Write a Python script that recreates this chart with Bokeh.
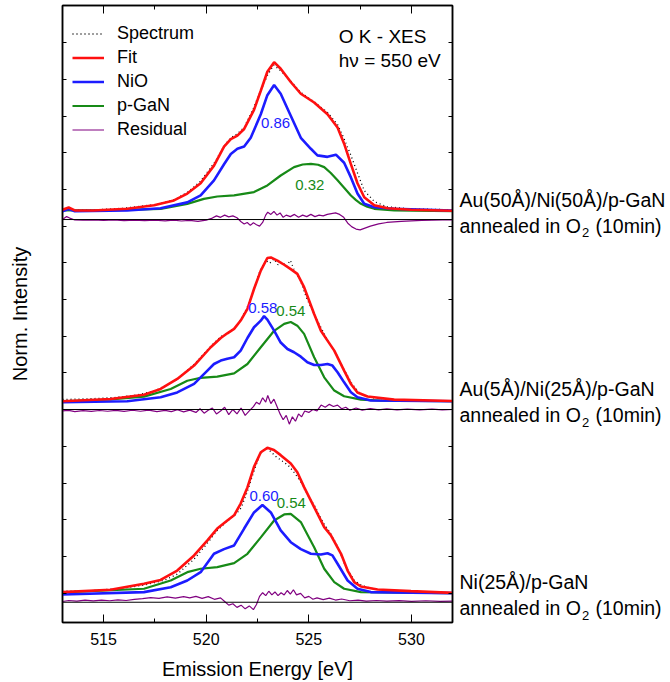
from bokeh.plotting import figure
from bokeh.layouts import row
from bokeh.models import (Legend, LegendItem, Span, Label, LinearAxis, FixedTicker,
                          CustomJSTickFormatter, Range1d, ColumnDataSource)
from bokeh.core.properties import value
from bokeh.embed import file_html
from bokeh.resources import INLINE

FONT = "Liberation Sans"

# ---------------- axes ----------------
x_major_ticks = [515, 520, 525, 530]
x_minor_ticks = [512.5, 517.5, 522.5, 527.5, 532.5]
y_ticks = [0.2, 0.45, 0.7, 0.95, 1.2, 1.45, 1.7, 1.95, 2.2, 2.45, 2.7, 2.95,
           3.2, 3.45, 3.7, 3.95, 4.2]

series_names = ["Spectrum", "Fit", "NiO", "p-GaN", "Residual"]
sample_names = ["Au(50Å)/Ni(50Å)/p-GaN", "Au(5Å)/Ni(25Å)/p-GaN", "Ni(25Å)/p-GaN"]
nio_weights = ["0.86", "0.58", "0.60"]
gan_weights = ["0.32", "0.54", "0.54"]

# ---------------- panel 1 : Au(50Å)/Ni(50Å)/p-GaN ----------------
p1_spec_x = [513.0, 513.3, 513.6, 514.5, 516.0, 517.5, 518.5, 519.1, 519.7, 520.4, 520.9, 521.2, 521.5, 521.85, 522.3, 522.65, 523.0, 523.3, 523.6, 524.1, 524.6, 525.25, 525.9, 526.4, 526.7, 527.05, 527.4, 527.7, 528.2, 528.8, 530.0, 532.0]
p1_spec_y = [0.012, 0.02, 0.008, 0.008, 0.02, 0.045, 0.08, 0.13, 0.20, 0.33, 0.45, 0.50, 0.525, 0.57, 0.70, 0.82, 0.93, 0.995, 0.96, 0.89, 0.81, 0.745, 0.675, 0.59, 0.50, 0.38, 0.25, 0.14, 0.065, 0.03, 0.015, 0.01]
p1_fit_x = [513.0, 513.3, 513.6, 514.5, 516.15, 517.46, 518.43, 519.08, 519.73, 520.38, 520.87, 521.2, 521.52, 521.85, 522.33, 522.66, 522.98, 523.31, 523.63, 524.12, 524.61, 525.26, 525.91, 526.4, 526.72, 527.05, 527.37, 527.7, 528.19, 528.84, 529.98, 532.0]
p1_fit_y = [0.01, 0.025, 0.005, 0.005, 0.016, 0.04, 0.073, 0.12, 0.19, 0.31, 0.44, 0.49, 0.515, 0.56, 0.69, 0.82, 0.95, 1.015, 0.97, 0.88, 0.80, 0.74, 0.66, 0.57, 0.46, 0.32, 0.19, 0.095, 0.04, 0.02, 0.01, 0.003]
p1_nio_x = [513.0, 513.3, 513.6, 516.15, 517.78, 519.08, 519.73, 520.38, 520.87, 521.2, 521.52, 521.85, 522.17, 522.66, 522.98, 523.31, 523.63, 524.12, 524.61, 525.1, 525.42, 525.91, 526.32, 526.72, 527.05, 527.37, 527.7, 528.19, 529.16, 532.0]
p1_nio_y = [0.0, 0.015, 0.0, 0.005, 0.02, 0.06, 0.107, 0.21, 0.32, 0.39, 0.425, 0.44, 0.50, 0.66, 0.79, 0.86, 0.80, 0.65, 0.50, 0.425, 0.38, 0.37, 0.385, 0.33, 0.23, 0.12, 0.05, 0.027, 0.016, 0.005]
p1_gan_x = [513.0, 516.0, 517.78, 519.08, 519.89, 520.54, 521.36, 522.33, 522.98, 523.63, 524.28, 524.7, 525.1, 525.45, 525.75, 526.07, 526.4, 526.72, 527.05, 527.3, 527.54, 527.85, 528.19, 529.16, 532.0]
p1_gan_y = [0.005, 0.008, 0.016, 0.05, 0.084, 0.10, 0.107, 0.13, 0.175, 0.243, 0.30, 0.318, 0.322, 0.316, 0.30, 0.26, 0.21, 0.16, 0.107, 0.075, 0.05, 0.03, 0.016, 0.005, 0.0]
p1_res_x = [513.0, 513.2, 513.35, 513.6, 514.0, 514.5, 515.0, 515.5, 516.0, 516.5, 517.0, 517.5, 518.0, 518.4, 518.8, 519.2, 519.6, 520.0, 520.3, 520.5, 520.7, 520.9, 521.1, 521.3, 521.5, 521.7, 521.85, 522.0, 522.15, 522.3, 522.45, 522.6, 522.75, 522.9, 523.0, 523.15, 523.3, 523.45, 523.6, 523.75, 523.9, 524.1, 524.3, 524.5, 524.7, 524.9, 525.1, 525.3, 525.5, 525.7, 525.9, 526.1, 526.3, 526.5, 526.7, 526.9, 527.1, 527.3, 527.5, 527.7, 528.0, 528.4, 528.8, 529.5, 530.5, 531.5, 532.0]
p1_res_y = [0.0, 0.02, 0.01, -0.003, -0.005, -0.002, -0.006, -0.003, -0.007, -0.004, -0.008, -0.005, -0.009, -0.004, -0.01, -0.006, -0.012, -0.004, 0.01, 0.025, 0.015, 0.03, 0.018, 0.025, 0.012, -0.015, -0.03, -0.02, -0.04, -0.022, -0.035, -0.045, -0.02, 0.03, 0.05, 0.035, 0.055, 0.03, 0.045, 0.015, 0.03, 0.02, 0.035, 0.015, 0.03, 0.02, 0.035, 0.02, 0.03, 0.025, 0.035, 0.04, 0.045, 0.035, 0.015, -0.025, -0.05, -0.065, -0.07, -0.06, -0.045, -0.03, -0.02, -0.012, -0.006, -0.003, -0.002]

# ---------------- panel 2 : Au(5Å)/Ni(25Å)/p-GaN ----------------
p2_spec_x = [513.0, 514.5, 515.5, 516.5, 517.5, 518.5, 519.4, 520.2, 520.7, 521.0, 521.4, 521.7, 522.0, 522.3, 522.6, 522.9, 523.1, 523.3, 523.5, 523.7, 523.9, 524.1, 524.3, 524.6, 524.9, 525.3, 525.6, 525.9, 526.3, 526.7, 527.1, 527.5, 528.0, 529.0, 530.5, 532.0]
p2_spec_y = [0.012, 0.018, 0.025, 0.04, 0.07, 0.14, 0.25, 0.37, 0.44, 0.46, 0.5, 0.56, 0.64, 0.75, 0.88, 0.96, 0.94, 0.97, 0.93, 0.95, 0.92, 0.96, 0.89, 0.82, 0.70, 0.58, 0.50, 0.42, 0.33, 0.22, 0.12, 0.05, 0.025, 0.012, 0.005, 0.003]
p2_fit_x = [513.0, 515.34, 516.97, 517.78, 518.59, 519.41, 520.22, 520.71, 521.03, 521.36, 521.68, 522.01, 522.33, 522.66, 522.98, 523.15, 523.47, 523.8, 524.12, 524.44, 524.77, 525.26, 525.59, 525.91, 526.24, 526.72, 527.05, 527.37, 527.86, 529.16, 532.0]
p2_fit_y = [0.0, 0.016, 0.045, 0.084, 0.152, 0.243, 0.368, 0.431, 0.463, 0.493, 0.55, 0.63, 0.765, 0.89, 0.976, 0.98, 0.958, 0.93, 0.90, 0.868, 0.777, 0.595, 0.481, 0.413, 0.345, 0.209, 0.118, 0.06, 0.032, 0.011, 0.002]
p2_nio_x = [513.0, 516.15, 517.78, 518.59, 519.41, 520.06, 520.38, 520.71, 521.03, 521.36, 521.68, 522.01, 522.33, 522.66, 522.82, 522.98, 523.31, 523.63, 523.96, 524.28, 524.61, 524.93, 525.26, 525.59, 525.91, 526.15, 526.4, 526.72, 527.05, 527.37, 528.02, 532.0]
p2_nio_y = [-0.007, 0.0, 0.027, 0.06, 0.118, 0.209, 0.254, 0.277, 0.29, 0.30, 0.345, 0.431, 0.504, 0.549, 0.58, 0.556, 0.481, 0.40, 0.356, 0.334, 0.304, 0.266, 0.247, 0.247, 0.254, 0.243, 0.198, 0.129, 0.061, 0.027, 0.005, 0.0]
p2_gan_x = [513.0, 515.34, 516.97, 518.27, 519.08, 519.73, 520.54, 521.36, 522.01, 522.66, 523.31, 523.8, 524.12, 524.44, 524.77, 525.26, 525.75, 526.24, 526.72, 527.54, 528.5, 532.0]
p2_gan_y = [0.0, 0.012, 0.032, 0.084, 0.14, 0.16, 0.168, 0.19, 0.254, 0.368, 0.48, 0.527, 0.54, 0.515, 0.459, 0.30, 0.163, 0.073, 0.034, 0.011, 0.004, 0.0]
p2_res_x = [513.0, 513.3, 513.6, 514.0, 514.4, 514.8, 515.2, 515.6, 516.0, 516.4, 516.8, 517.2, 517.6, 518.0, 518.3, 518.6, 518.9, 519.2, 519.5, 519.7, 519.9, 520.1, 520.3, 520.5, 520.7, 520.9, 521.1, 521.3, 521.5, 521.7, 521.9, 522.1, 522.3, 522.45, 522.6, 522.75, 522.9, 523.0, 523.15, 523.3, 523.45, 523.6, 523.75, 523.9, 524.05, 524.2, 524.35, 524.5, 524.65, 524.8, 525.0, 525.2, 525.4, 525.6, 525.8, 526.0, 526.2, 526.4, 526.6, 526.8, 527.0, 527.3, 527.6, 528.0, 528.4, 528.8, 529.3, 529.8, 530.4, 531.0, 531.5, 532.0]
p2_res_y = [-0.01, -0.006, -0.014, -0.008, -0.013, -0.007, -0.012, -0.006, -0.013, -0.005, -0.012, -0.004, -0.014, -0.006, -0.015, -0.002, -0.016, -0.004, -0.02, 0.005, -0.025, -0.005, 0.01, -0.03, -0.01, 0.015, -0.035, 0.0, -0.03, 0.01, -0.04, -0.01, 0.02, 0.05, 0.035, 0.08, 0.05, 0.095, 0.04, 0.07, 0.02, -0.03, -0.07, -0.04, -0.1, -0.05, -0.08, -0.03, -0.05, -0.01, -0.02, 0.0, -0.01, 0.03, 0.015, 0.035, 0.02, 0.03, 0.005, 0.015, -0.005, 0.01, -0.004, 0.006, -0.002, 0.004, -0.003, 0.003, -0.002, 0.002, -0.002, 0.0]

# ---------------- panel 3 : Ni(25Å)/p-GaN ----------------
p3_spec_x = [513.0, 514.5, 516.0, 517.0, 518.0, 518.6, 519.4, 520.0, 520.5, 521.0, 521.4, 521.7, 522.0, 522.3, 522.6, 522.9, 523.1, 523.4, 523.7, 524.0, 524.3, 524.6, 524.9, 525.3, 525.7, 526.0, 526.4, 526.8, 527.2, 527.6, 528.2, 529.0, 530.5, 532.0]
p3_spec_y = [0.012, 0.018, 0.035, 0.055, 0.09, 0.13, 0.23, 0.33, 0.42, 0.49, 0.53, 0.58, 0.69, 0.82, 0.94, 0.99, 0.97, 0.93, 0.90, 0.87, 0.82, 0.76, 0.68, 0.59, 0.48, 0.42, 0.32, 0.18, 0.09, 0.05, 0.028, 0.015, 0.006, 0.003]
p3_fit_x = [513.0, 515.34, 516.97, 517.78, 518.59, 519.41, 520.06, 520.54, 521.03, 521.36, 521.68, 522.01, 522.33, 522.66, 522.98, 523.3, 523.63, 524.12, 524.44, 524.77, 525.26, 525.75, 526.07, 526.57, 526.89, 527.21, 527.54, 528.35, 529.98, 532.0]
p3_fit_y = [0.007, 0.023, 0.064, 0.09, 0.154, 0.257, 0.36, 0.44, 0.495, 0.53, 0.61, 0.72, 0.86, 0.96, 0.99, 0.975, 0.94, 0.883, 0.824, 0.722, 0.586, 0.45, 0.395, 0.268, 0.154, 0.075, 0.045, 0.025, 0.014, 0.002]
p3_nio_x = [513.0, 516.97, 518.27, 519.08, 519.73, 520.38, 520.87, 521.36, 521.85, 522.33, 522.74, 523.15, 523.63, 524.12, 524.61, 525.1, 525.59, 525.91, 526.15, 526.4, 526.89, 527.37, 528.02, 532.0]
p3_nio_y = [-0.009, 0.007, 0.04, 0.086, 0.143, 0.268, 0.30, 0.325, 0.44, 0.55, 0.60, 0.55, 0.427, 0.347, 0.30, 0.268, 0.263, 0.272, 0.257, 0.20, 0.086, 0.03, 0.007, 0.0]
p3_gan_x = [513.0, 516.97, 518.27, 519.08, 519.73, 520.54, 521.36, 522.01, 522.66, 523.31, 523.8, 524.12, 524.61, 524.93, 525.26, 525.75, 526.24, 526.72, 527.54, 532.0]
p3_gan_y = [0.005, 0.03, 0.086, 0.143, 0.166, 0.177, 0.204, 0.268, 0.38, 0.495, 0.536, 0.54, 0.484, 0.40, 0.313, 0.166, 0.075, 0.03, 0.007, 0.0]
p3_res_x = [513.0, 513.3, 513.7, 514.1, 514.5, 514.9, 515.3, 515.7, 516.1, 516.5, 516.9, 517.3, 517.7, 518.1, 518.5, 518.9, 519.2, 519.5, 519.8, 520.1, 520.4, 520.7, 520.9, 521.1, 521.3, 521.5, 521.7, 521.9, 522.1, 522.3, 522.45, 522.6, 522.75, 522.9, 523.05, 523.2, 523.35, 523.5, 523.65, 523.8, 523.95, 524.1, 524.25, 524.4, 524.6, 524.8, 525.0, 525.2, 525.4, 525.7, 526.0, 526.3, 526.6, 527.0, 527.4, 527.8, 528.3, 528.8, 529.4, 530.0, 530.7, 531.4, 532.0]
p3_res_y = [0.005, 0.012, 0.008, 0.014, 0.009, 0.015, 0.01, 0.016, 0.012, 0.02, 0.025, 0.032, 0.026, 0.036, 0.028, 0.038, 0.03, 0.04, 0.026, 0.038, 0.02, 0.03, 0.005, -0.02, -0.01, -0.035, -0.02, -0.045, -0.025, -0.05, -0.015, 0.04, 0.065, 0.045, 0.075, 0.05, 0.07, 0.045, 0.065, 0.05, 0.08, 0.055, 0.085, 0.05, 0.06, 0.03, 0.04, 0.02, 0.03, 0.018, 0.028, 0.015, 0.022, 0.01, 0.015, 0.008, 0.012, 0.007, 0.011, 0.006, 0.01, 0.006, 0.008]

# ---------------- layout (vertical stacking offsets) ----------------
Y_END = 4.203
PX_PER_UNIT = 146.8
panel_base = [2.802, 1.507, 0.2]     # flat level of each spectrum
panel_zero = [2.745, 1.451, 0.138]   # zero line of each residual
nio_label_pos = [(523.38, 0.60), (522.76, 0.637), (522.82, 0.665)]
gan_label_pos = [(525.05, 0.175), (524.12, 0.612), (524.15, 0.613)]

C_SPEC, C_FIT, C_NIO, C_GAN, C_RES = "black", "#ff1010", "#1c1cff", "#178a17", "#800080"

panels = [
    (p1_spec_x, p1_spec_y, p1_fit_x, p1_fit_y, p1_nio_x, p1_nio_y, p1_gan_x, p1_gan_y, p1_res_x, p1_res_y),
    (p2_spec_x, p2_spec_y, p2_fit_x, p2_fit_y, p2_nio_x, p2_nio_y, p2_gan_x, p2_gan_y, p2_res_x, p2_res_y),
    (p3_spec_x, p3_spec_y, p3_fit_x, p3_fit_y, p3_nio_x, p3_nio_y, p3_gan_x, p3_gan_y, p3_res_x, p3_res_y),
]

p = figure(width=454, height=682, x_range=Range1d(513, 532), y_range=Range1d(0, Y_END),
           output_backend="svg", toolbar_location=None,
           min_border_left=62, min_border_right=2, min_border_top=5, min_border_bottom=60)
p.grid.visible = False
p.outline_line_color = "black"
p.outline_line_width = 1.5
p.background_fill_color = "white"
p.border_fill_color = "white"

xt = FixedTicker(ticks=x_major_ticks, minor_ticks=x_minor_ticks)
yt = FixedTicker(ticks=y_ticks, minor_ticks=[])


def style_axis(ax, major_in, minor_in):
    ax.axis_line_color = "black"
    ax.axis_line_width = 1.5
    ax.major_tick_in = major_in
    ax.major_tick_out = 0
    ax.minor_tick_in = minor_in
    ax.minor_tick_out = 0
    ax.major_tick_line_color = "black"
    ax.minor_tick_line_color = "black"
    ax.major_tick_line_width = 1
    ax.minor_tick_line_width = 1
    ax.major_label_text_font = FONT
    ax.axis_label_text_font = FONT
    ax.axis_label_text_font_style = "normal"
    ax.axis_label_text_color = "black"
    ax.major_label_text_color = "black"


xa = p.xaxis[0]
xa.ticker = xt
style_axis(xa, 8, 4)
xa.axis_label = "Emission Energy [eV]"
xa.axis_label_text_font_size = "20px"
xa.major_label_text_font_size = "16px"
xa.major_label_standoff = 10
xa.axis_label_standoff = 10

ya = p.yaxis[0]
ya.ticker = yt
ya.formatter = CustomJSTickFormatter(code="return ''")
style_axis(ya, 4, 0)
ya.axis_label = "Norm. Intensity"
ya.axis_label_text_font_size = "20px"
ya.major_label_standoff = 0
ya.axis_label_standoff = 32

top = LinearAxis(ticker=xt, formatter=CustomJSTickFormatter(code="return ''"))
style_axis(top, 8, 4)
top.major_label_standoff = 0
p.add_layout(top, "above")

right = LinearAxis(ticker=yt, formatter=CustomJSTickFormatter(code="return ''"))
style_axis(right, 4, 0)
right.major_label_standoff = 0
p.add_layout(right, "right")

legend_renderers = None
for i, (sx, sy, fx, fy, nx, ny, gx, gy, rx, ry) in enumerate(panels):
    b = panel_base[i]
    z = panel_zero[i]
    r_spec = p.line(sx, [v + b for v in sy], line_color=C_SPEC, line_width=1.3, line_dash="1 3")
    r_gan = p.line(gx, [v + b for v in gy], line_color=C_GAN, line_width=2.2)
    r_nio = p.line(nx, [v + b for v in ny], line_color=C_NIO, line_width=2.6)
    r_fit = p.line(fx, [v + b for v in fy], line_color=C_FIT, line_width=2.6)
    r_res = p.line(rx, [v + z for v in ry], line_color=C_RES, line_width=1.2)
    p.add_layout(Span(location=z, dimension="width", line_color="black", line_width=1))
    if legend_renderers is None:
        legend_renderers = [r_spec, r_fit, r_nio, r_gan, r_res]

    lx, ly = nio_label_pos[i]
    p.add_layout(Label(x=lx, y=ly + b, text=nio_weights[i], text_color=C_NIO,
                       text_font=FONT, text_font_size="15px",
                       text_align="center", text_baseline="middle"))
    lx, ly = gan_label_pos[i]
    p.add_layout(Label(x=lx, y=ly + b, text=gan_weights[i], text_color=C_GAN,
                       text_font=FONT, text_font_size="15px",
                       text_align="center", text_baseline="middle"))

legend = Legend(items=[LegendItem(label=n, renderers=[r]) for n, r in zip(series_names, legend_renderers)],
                location=(0, 472), orientation="vertical")
legend.border_line_alpha = 0
legend.background_fill_alpha = 0
legend.label_text_font = FONT
legend.label_text_font_size = "18px"
legend.label_text_color = "black"
legend.glyph_width = 32
legend.glyph_height = 21
legend.label_height = 21
legend.spacing = 3
legend.padding = 10
legend.margin = 0
legend.label_standoff = 13
p.add_layout(legend)

p.add_layout(Label(x=526.46, y=3.994, text="O K - XES", text_font=FONT, text_font_size="19px",
                   text_color="black", text_align="left", text_baseline="alphabetic"))
p.add_layout(Label(x=526.46, y=3.828, text="hν = 550 eV", text_font=FONT, text_font_size="19px",
                   text_color="black", text_align="left", text_baseline="alphabetic"))

# ---------------- side panel with the sample descriptions ----------------
# side panel starts at page x = 454 (2 px right of the frame edge)
side = figure(width=216, height=682, x_range=Range1d(0, 216), y_range=Range1d(0, Y_END),
              output_backend="svg", toolbar_location=None,
              x_axis_type=None, y_axis_type=None,
              min_border_left=0, min_border_right=0, min_border_top=5, min_border_bottom=60)
side.grid.visible = False
side.outline_line_color = None
side.background_fill_color = "white"
side.border_fill_color = "white"

big_x, big_y, big_t = [], [], []
sub_x, sub_y, sub_t = [], [], []
for i in range(3):
    z = panel_zero[i]
    big_x += [5, 5, 141]
    big_y += [z + 20 / PX_PER_UNIT, z - 6 / PX_PER_UNIT, z - 6 / PX_PER_UNIT]
    big_t += [sample_names[i], "annealed in O", "(10min)"]
    sub_x.append(127.5)
    sub_y.append(z - 13 / PX_PER_UNIT)
    sub_t.append("2")

side.text(x="x", y="y", text="t", source=ColumnDataSource(dict(x=big_x, y=big_y, t=big_t)),
          text_font=value(FONT), text_font_size=value("19.5px"), text_color="black",
          text_align="left", text_baseline="alphabetic")
side.text(x="x", y="y", text="t", source=ColumnDataSource(dict(x=sub_x, y=sub_y, t=sub_t)),
          text_font=value(FONT), text_font_size=value("13px"), text_color="black",
          text_align="left", text_baseline="alphabetic")

layout = row(p, side)
open("out.html", "w").write(file_html(layout, INLINE))
